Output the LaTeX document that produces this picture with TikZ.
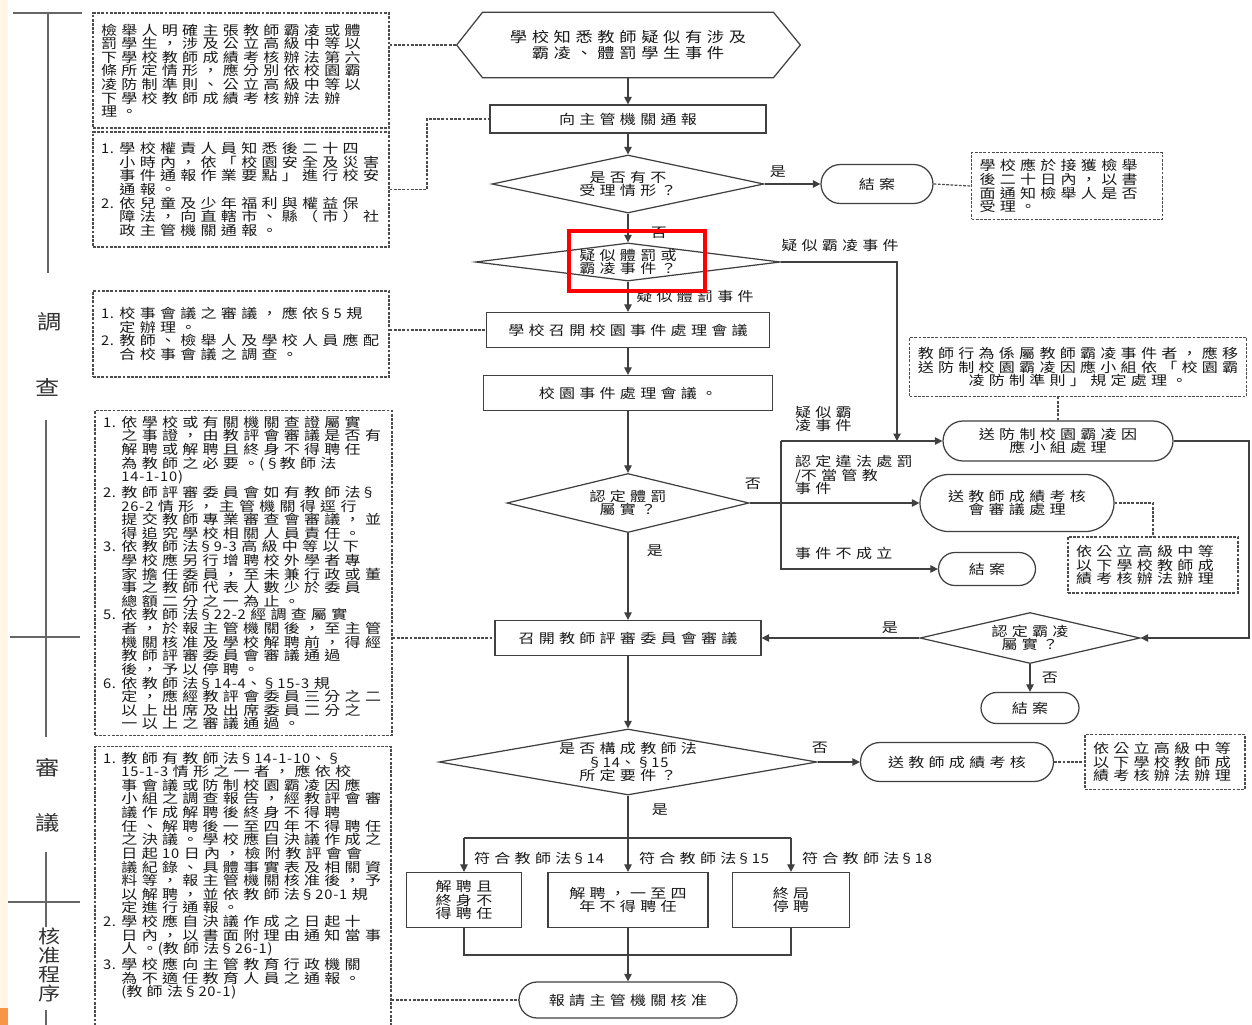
\documentclass[tikz,border=0pt]{standalone}
\usepackage{fontspec}
\setmainfont{Noto Sans CJK TC}[LetterSpace=32,FakeStretch=1.2]
\newfontfamily\latf{Noto Sans CJK TC}[LetterSpace=6,FakeStretch=1.1]
\usetikzlibrary{shapes.geometric,shapes.misc,arrows.meta}

\definecolor{cream}{HTML}{FFF6E5}
\definecolor{tab}{HTML}{F79646}

\newlength\itemw \setlength\itemw{10.5pt}
\newcommand\lt[1]{{\latf #1}}
\newcommand\itemno[1]{\makebox[\itemw][l]{\latf #1}}
\newcommand\indt{\hspace*{\itemw}}

\tikzset{
  every node/.style={font=\fontsize{7.6}{7.75}\selectfont, text=black!90},
  sz/.style 2 args={minimum width=#1*0.02cm, minimum height=#2*0.02cm},
  box/.style={draw=black!75, line width=0.7pt, rectangle, inner sep=2pt, align=center},
  pill/.style={draw=black!75, line width=0.7pt, rounded rectangle, inner sep=2pt, align=center},
  choice/.style={draw=black!75, line width=0.7pt, diamond, inner sep=0pt, align=center},
  note/.style={draw=black!70, line width=0.8pt, dash pattern=on 1.6pt off 0.8pt,
    align=left, inner xsep=0.16cm, inner ysep=3pt},
  line/.style={draw=black!75, line width=0.6pt},
  arr/.style={line, -{Triangle[length=0.15cm, width=0.15cm]}},
  dlink/.style={draw=black!70, line width=0.7pt, dash pattern=on 1.6pt off 0.8pt},
  rule/.style={draw=black!60, line width=0.6pt},
  lbl/.style={inner sep=1pt},
  phase/.style={font=\fontsize{11.5}{12}\selectfont, text=black!80}
}

\begin{document}
\begin{tikzpicture}[x=0.02cm, y=-0.02cm]
\useasboundingbox (0,0) rectangle (1252,1025);
\fill[white] (0,0) rectangle (1252,1025);
\fill[cream] (0,0) rectangle (8,1025);
\fill[tab] (0,1008) rectangle (8,1025);

% phase column
\draw[rule] (13,13) -- (82,13);
\draw[rule] (48,13) -- (48,273);
\draw[rule] (46,420) -- (46,737);
\draw[rule] (10,637) -- (80,637);
\draw[rule] (46,852) -- (46,927);
\draw[rule] (8,902) -- (80,902);
\draw[rule] (46,1010) -- (46,1025);
\node[phase] (ph1) at (50,322) {調};
\node[phase] (ph2) at (48,387) {查};
\node[phase] (ph3) at (48,768) {審};
\node[phase] (ph4) at (48,823) {議};
\node[phase, align=center, font=\fontsize{10.5}{10.8}\selectfont] (ph5) at (50,965) {核\\准\\程\\序};

% main flow
\node[sz={290}{65}, align=center, font=\fontsize{8.2}{9.2}\selectfont] (start) at (628,45) {學校知悉教師疑似有涉及\\霸凌、體罰學生事件};
\draw[line, line width=0.7pt] (start.north west) -- (start.north east) -- ([xshift=0.54cm]start.east)
  -- (start.south east) -- (start.south west) -- ([xshift=-0.52cm]start.west) -- cycle;
\coordinate (startL) at ([xshift=-0.52cm]start.west);
\node[box, sz={276}{28}] (report) at (628,119) {向主管機關通報};
\node[choice, sz={272}{58}, aspect=4.7] (q1) at (628,184) {是否有不\\受理情形？};
\node[pill, sz={119}{39}] (end1) at (877,184) {結案};
\node[note, text width=3.5cm, minimum height=1.34cm] (n1) at (1067,186) {學校應於接獲檢舉\\後二十日內，以書\\面通知檢舉人是否\\受理。};
\node[choice, sz={303}{38}, aspect=8] (q2) at (628,262) {疑似體罰或\\霸凌事件？};
\node[box, sz={283}{35}] (meet) at (628,330) {學校召開校園事件處理會議};
\node[box, sz={289}{35}] (meet2) at (628,393) {校園事件處理會議。};
\node[choice, sz={242}{59}, aspect=4.1] (q3) at (628,503) {認定體罰\\屬實？};
\node[box, sz={266}{35}] (review) at (628,638) {召開教師評審委員會審議};
\node[choice, sz={378}{66}, aspect=5.7] (q4) at (628,762) {是否構成教師法\\\lt{§14}、\lt{§15}\\所定要件？};

% right column
\node[note, align=center, text width=6.42cm, minimum height=1.18cm] (n2) at (1078,367) {教師行為係屬教師霸凌事件者，應移\\送防制校園霸凌因應小組依「校園霸\\凌防制準則」規定處理。};
\node[pill, sz={237}{40}] (bully) at (1058,441) {送防制校園霸凌因\\應小組處理};
\node[pill, sz={201}{57}] (perf) at (1017,503) {送教師成績考核\\會審議處理};
\node[note, text width=3.08cm, minimum height=1.12cm] (n3) at (1153,565) {依公立高級中等\\以下學校教師成\\績考核辦法辦理};
\node[pill, sz={104}{33}] (end2) at (987,569) {結案};
\node[choice, sz={220}{51}, aspect=4.3] (q5) at (1030,638) {認定霸凌\\屬實？};
\node[pill, sz={105}{31}] (end3) at (1030,708) {結案};
\node[pill, sz={200}{39}] (perf2) at (957,762) {送教師成績考核};
\node[note, text width=2.88cm, minimum height=1.1cm] (n4) at (1165,762) {依公立高級中等\\以下學校教師成\\績考核辦法辦理};

% outcomes
\node[box, sz={115}{55}] (out1) at (464,900) {解聘且\\終身不\\得聘任};
\node[box, sz={160}{55}] (out2) at (628,900) {解聘，一至四\\年不得聘任};
\node[box, sz={117}{55}] (out3) at (791,900) {終局\\停聘};
\node[pill, sz={225}{36}] (final) at (628,1000) {報請主管機關核准};

% left notes
\node[note, text width=5.6cm, minimum height=2.3cm] (nA) at (241,70.5) {檢舉人明確主張教師霸凌或體\\罰學生，涉及公立高級中等以\\下學校教師成績考核辦法第六\\條所定情形，應分別依校園霸\\凌防制準則、公立高級中等以\\下學校教師成績考核辦法辦\\理。};
\node[note, text width=5.6cm, minimum height=2.3cm] (nB) at (241,189.5) {\itemno{1.}學校權責人員知悉後二十四\\
\indt 小時內，依「校園安全及災害\\
\indt 事件通報作業要點」進行校安\\
\indt 通報。\\
\itemno{2.}依兒童及少年福利與權益保\\
\indt 障法，向直轄市、縣（市）社\\
\indt 政主管機關通報。};
\node[note, text width=5.6cm, minimum height=1.72cm] (nC) at (241,334) {\itemno{1.}校事會議之審議，應依\lt{§5}~規\\
\indt 定辦理。\\
\itemno{2.}教師、檢舉人及學校人員應配\\
\indt 合校事會議之調查。\\[4pt]};
\node[note, text width=5.62cm, minimum height=6.4cm] (nD) at (243.5,573) {\itemno{1.}依學校或有關機關查證屬實\\
\indt 之事證，由教評會審議是否有\\
\indt 解聘或解聘且終身不得聘任\\
\indt 為教師之必要。\lt{(§}教師法\\
\indt \lt{14-1-10)}\\
\itemno{2.}教師評審委員會如有教師法\lt{§}\\
\indt \lt{26-2}~情形，主管機關得逕行\\
\indt 提交教師專業審查會審議，並\\
\indt 得追究學校相關人員責任。\\
\itemno{3.}依教師法\lt{§9-3}~高級中等以下\\
\indt 學校應另行增聘校外學者專\\
\indt 家擔任委員，至未兼行政或董\\
\indt 事之教師代表人數少於委員\\
\indt 總額二分之一為止。\\
\itemno{5.}依教師法\lt{§22-2}~經調查屬實\\
\indt 者，於報主管機關後，至主管\\
\indt 機關核准及學校解聘前，得經\\
\indt 教師評審委員會審議通過\\
\indt 後，予以停聘。\\
\itemno{6.}依教師法\lt{§14-4}、\lt{§15-3}~規\\
\indt 定，應經教評會委員三分之二\\
\indt 以上出席及出席委員二分之\\
\indt 一以上之審議通過。};
\node[note, text width=5.6cm, minimum height=5.66cm] (nE) at (243,888) {\itemno{1.}教師有教師法\lt{§14-1-10}、\lt{§}\\
\indt \lt{15-1-3}~情形之一者，應依校\\
\indt 事會議或防制校園霸凌因應\\
\indt 小組之調查報告，經教評會審\\
\indt 議作成解聘後終身不得聘\\
\indt 任、解聘後一至四年不得聘任\\
\indt 之決議。學校應自決議作成之\\
\indt 日起~\lt{10}~日內，檢附教評會會\\
\indt 議紀錄、具體事實表及相關資\\
\indt 料等，報主管機關核准後，予\\
\indt 以解聘，並依教師法\lt{§20-1}~規\\
\indt 定進行通報。\\
\itemno{2.}學校應自決議作成之日起十\\
\indt 日內，以書面附理由通知當事\\
\indt 人。\lt{(}教師法\lt{§26-1)}\\
\itemno{3.}學校應向主管教育行政機關\\
\indt 為不適任教育人員之通報。\\
\indt \lt{(}教師法\lt{§20-1)}\\ \mbox{}\\ \mbox{}};

\coordinate (k1) at (427,119);
\coordinate (bj) at (897,441);
\coordinate (bk) at (781,441);
\coordinate (rr) at (1249,638);
\coordinate (br) at (628,838);
\coordinate (brL) at (464,838);
\coordinate (brR) at (791,838);
\coordinate (jL) at (464,955);
\coordinate (jR) at (791,955);

% connectors
\draw[arr] (start.south) -- (report.north);
\draw[arr] (report.south) -- (q1.north);
\draw[arr] (q1.east) -- (end1.west);
\node[lbl] (l1) at (778,172) {是};
\draw[dlink] (end1.east) -- (n1.west);
\draw[arr] (q1.south) -- (q2.north);
\node[lbl] (l2) at (659,233) {否};
\draw[arr] (q2.south) -- (meet.north);
\node[lbl] (l3) at (695,296) {疑似體罰事件};
\draw[arr] (q2.east) -| (bj);
\node[lbl] (l4) at (840,245) {疑似霸凌事件};
\draw[arr] (meet.south) -- (meet2.north);
\draw[arr] (meet2.south) -- (q3.north);
\draw[arr] (q3.east) -- (perf.west);
\node[lbl] (l5) at (753,484) {否};
\draw[arr] (bk) -- (bully.west);
\draw[arr] (bk) |- (end2.west);
\node[lbl, anchor=west, align=left] (l6) at (793,419) {疑似霸\\凌事件};
\node[lbl, anchor=west, align=left] (l7) at (793,475) {認定違法處罰\\\lt{/}不當管教\\事件};
\node[lbl, anchor=west] (l8) at (793,553) {事件不成立};
\draw[dlink] (bully.north) -- (bully.north |- n2.south);
\draw[dlink] (perf.east) -| (n3.north);
\draw[arr] (bully.east) -| (rr) -- (q5.east);
\draw[arr] (q5.west) -- (review.east);
\node[lbl] (l9) at (890,628) {是};
\draw[arr] (q5.south) -- (end3.north);
\node[lbl] (l10) at (1050,678) {否};
\draw[arr] (q3.south) -- (review.north);
\node[lbl] (l11) at (655,551) {是};
\draw[arr] (review.south) -- (q4.north);
\draw[arr] (q4.east) -- (perf2.west);
\node[lbl] (l12) at (820,748) {否};
\draw[dlink] (perf2.east) -- (n4.west);
\draw[line] (q4.south) -- (br);
\node[lbl] (l13) at (660,810) {是};
\draw[line] (brL) -- (brR);
\draw[arr] (brL) -- (out1.north);
\draw[arr] (br) -- (out2.north);
\draw[arr] (brR) -- (out3.north);
\node[lbl, anchor=west] (l14) at (472,858) {符合教師法\lt{§14}};
\node[lbl, anchor=west] (l15) at (637,858) {符合教師法\lt{§15}};
\node[lbl, anchor=west] (l16) at (800,858) {符合教師法\lt{§18}};
\draw[line] (out1.south) -- (jL) -- (jR) -- (out3.south);
\draw[arr] (out2.south) -- (final.north);

% notes to flow
\draw[dlink] (nA.east |- startL) -- (startL);
\draw[dlink] (nB.east) -| (k1) -- (report.west);
\draw[dlink] (nC.east |- meet.west) -- (meet.west);
\draw[dlink] (nD.east |- review.west) -- (review.west);
\draw[dlink] (nE.east |- final.west) -- (final.west);

% highlight
\draw[red, line width=2.2pt] (569,231) rectangle (705,291);
\end{tikzpicture}
\end{document}
